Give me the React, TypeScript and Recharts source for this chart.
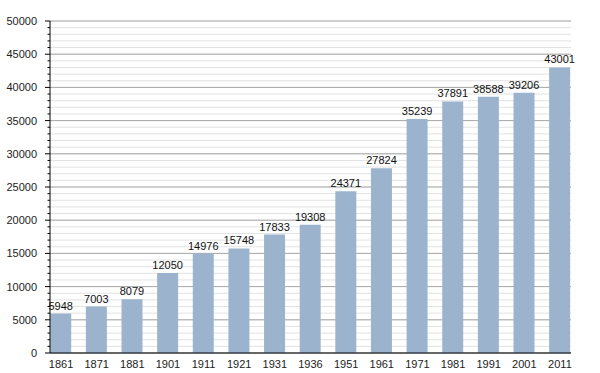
import { BarChart, Bar, XAxis, YAxis, CartesianGrid, LabelList } from "recharts";

const YEARS = ["1861", "1871", "1881", "1901", "1911", "1921", "1931", "1936", "1951", "1961", "1971", "1981", "1991", "2001", "2011"];
const POPULATION = [5948, 7003, 8079, 12050, 14976, 15748, 17833, 19308, 24371, 27824, 35239, 37891, 38588, 39206, 43001];
const MAJOR_TICKS = [0, 5000, 10000, 15000, 20000, 25000, 30000, 35000, 40000, 45000, 50000];

const MINOR_TICKS: number[] = [];
for (let v = 0; v <= 50000; v += 1000) MINOR_TICKS.push(v);

const data = YEARS.map((year, i) => ({ i, year, pop: POPULATION[i] }));

const FONT = "'Liberation Sans', Arial, sans-serif";

function YTick(props: any) {
    const { x, y, payload } = props;
    const axisX = x + 13;
    const major = payload.value % 5000 === 0;
    return (
        <g>
            <line x1={axisX - (major ? 5 : 2.5)} x2={axisX} y1={y} y2={y} stroke="#000" />
            {major && (
                <text x={x} y={y} dy={4} textAnchor="end" fontSize={11} fill="#222" fontFamily={FONT}>
                    {payload.value}
                </text>
            )}
        </g>
    );
}

export default function App() {
    return (
        <div style={{ position: "absolute", left: 0, top: 0, background: "#fff" }}>
            <BarChart
                width={600}
                height={373}
                data={data}
                margin={{ top: 21, right: 29, left: 0, bottom: 0 }}
            >
                <CartesianGrid vertical={false} horizontalValues={MINOR_TICKS} stroke="#e2e2e2" />
                <CartesianGrid vertical={false} horizontalValues={MAJOR_TICKS} stroke="#a9a9a9" />
                <XAxis
                    dataKey="i"
                    type="number"
                    domain={[-0.31, 14.31]}
                    ticks={data.map((d) => d.i)}
                    interval={0}
                    tickFormatter={(i: number) => YEARS[i]}
                    tickLine={false}
                    axisLine={{ stroke: "#000" }}
                    height={20}
                    tickMargin={1}
                    tick={{ fontSize: 11, fill: "#222", fontFamily: FONT }}
                />
                <YAxis
                    domain={[0, 50000]}
                    ticks={MINOR_TICKS}
                    interval={0}
                    width={50}
                    tickSize={5}
                    tickMargin={8}
                    tickLine={false}
                    axisLine={{ stroke: "#000" }}
                    tick={<YTick />}
                />
                <Bar dataKey="pop" fill="#9bb3cd" barSize={21} isAnimationActive={false}>
                    <LabelList
                        dataKey="pop"
                        position="top"
                        offset={4}
                        style={{ fontSize: 11, fill: "#111", fontFamily: FONT }}
                    />
                </Bar>
            </BarChart>
        </div>
    );
}
